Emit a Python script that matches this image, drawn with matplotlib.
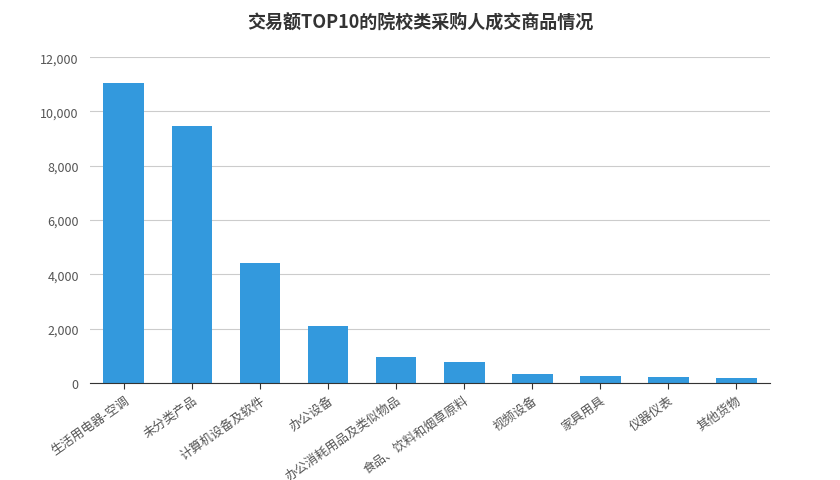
import matplotlib
matplotlib.use("Agg")
import matplotlib.pyplot as plt

plt.rcParams['font.family'] = ['Noto Sans CJK SC', 'DejaVu Sans']

categories = ["生活用电器-空调", "未分类产品", "计算机设备及软件", "办公设备", "办公消耗用品及类似物品",
              "食品、饮料和烟草原料", "视频设备", "家具用具", "仪器仪表", "其他货物"]
values = [11050, 9480, 4400, 2100, 950, 780, 310, 270, 210, 170]

fig = plt.figure(figsize=(8.4, 4.81), dpi=100)
ax = fig.add_axes([0.107, 0.202, 0.81, 0.677])
ax.bar(range(len(values)), values, width=0.6, color="#3399dd", zorder=2)
ax.set_xlim(-0.5, len(values) - 0.5)
ax.set_ylim(0, 12000)
ax.set_yticks(range(0, 12001, 2000))
ax.set_yticklabels([f"{v:,}" for v in range(0, 12001, 2000)], fontsize=9, color="#555555")
ax.set_xticks(range(len(values)))
ax.set_xticklabels(categories, rotation=35, ha="right", rotation_mode="anchor", fontsize=9, color="#555555")
ax.grid(axis="y", color="#cccccc", linewidth=0.8, zorder=0)
for s in ["top", "right", "left"]:
    ax.spines[s].set_visible(False)
ax.spines["bottom"].set_color("#333333")
ax.tick_params(axis="y", length=0, pad=8)
ax.tick_params(axis="x", length=4, color="#333333")
fig.text(0.5, 0.955, "交易额TOP10的院校类采购人成交商品情况", ha="center", va="center",
         fontsize=13, fontweight="bold", color="#333333")
fig.savefig("out.png", dpi=100)
